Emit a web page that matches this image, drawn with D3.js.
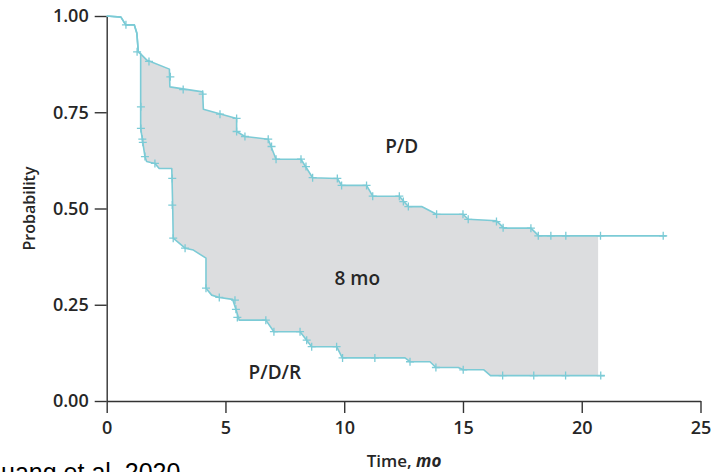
<!DOCTYPE html>
<html>
<head>
<meta charset="utf-8">
<script src="https://cdn.jsdelivr.net/npm/d3@7"></script>
<style>
  html, body { margin: 0; padding: 0; background: #fff; }
  svg text { font-family: "Open Sans", "Noto Sans", sans-serif; fill: #262626; }
</style>
</head>
<body>
<div id="chart"></div>
<script>
// ── DATA ──────────────────────────────────────────────────────
// P/D curve (upper) : vertices of the step line
const pdTime = [0, 0.6, 0.8, 1.16, 1.27, 1.33, 1.47, 1.68, 2.64, 2.66, 4.04, 4.07, 5.47, 5.47, 5.82, 6.80, 7.13, 8.18, 8.67, 9.71, 9.89, 10.94, 11.2, 12.32, 12.70, 13.26, 13.89, 15.0, 15.22, 16.41, 16.73, 17.86, 18.19, 23.57];
const pdProb = [1.0, 0.997, 0.977, 0.977, 0.955, 0.907, 0.899, 0.886, 0.862, 0.816, 0.803, 0.758, 0.734, 0.700, 0.687, 0.680, 0.628, 0.628, 0.580, 0.578, 0.560, 0.560, 0.532, 0.532, 0.505, 0.505, 0.485, 0.485, 0.472, 0.468, 0.449, 0.449, 0.429, 0.429];

// P/D censor marks
const pdCensorTime = [0.81, 1.28, 1.78, 2.68, 3.22, 4.04, 4.77, 5.47, 5.47, 5.82, 6.80, 6.94, 7.13, 8.18, 8.39, 8.67, 9.71, 9.89, 10.94, 11.2, 12.32, 12.49, 12.70, 13.89, 15.0, 15.22, 16.41, 16.69, 17.86, 18.17, 18.70, 19.33, 20.79, 23.43];
const pdCensorProb = [0.977, 0.907, 0.882, 0.842, 0.809, 0.797, 0.745, 0.734, 0.700, 0.687, 0.680, 0.661, 0.628, 0.628, 0.609, 0.580, 0.578, 0.560, 0.560, 0.532, 0.532, 0.518, 0.505, 0.485, 0.485, 0.472, 0.466, 0.450, 0.449, 0.429, 0.429, 0.429, 0.429, 0.429];

// P/D/R curve (lower)
const pdrTime = [0, 0.6, 0.8, 1.16, 1.27, 1.33, 1.43, 1.43, 1.50, 1.61, 1.68, 2.03, 2.21, 2.74, 2.78, 2.80, 3.30, 3.65, 4.18, 4.18, 4.42, 4.74, 5.30, 5.44, 5.58, 6.70, 7.04, 8.14, 8.63, 9.68, 9.92, 12.56, 12.77, 13.61, 13.86, 14.80, 15.01, 15.88, 16.16, 20.97];
const pdrProb = [1.0, 0.997, 0.977, 0.977, 0.955, 0.907, 0.902, 0.708, 0.680, 0.635, 0.622, 0.617, 0.604, 0.604, 0.500, 0.423, 0.397, 0.392, 0.371, 0.293, 0.275, 0.269, 0.264, 0.238, 0.210, 0.210, 0.180, 0.180, 0.141, 0.141, 0.112, 0.112, 0.102, 0.102, 0.087, 0.087, 0.081, 0.081, 0.066, 0.066];

// P/D/R censor marks
const pdrCensorTime = [1.44, 1.44, 1.50, 1.52, 1.61, 2.03, 2.76, 2.76, 2.80, 3.30, 4.18, 4.74, 5.40, 5.44, 5.50, 6.70, 7.04, 8.14, 8.42, 8.63, 9.68, 9.93, 11.29, 12.77, 13.86, 15.01, 16.67, 17.98, 19.32, 20.80];
const pdrCensorProb = [0.764, 0.708, 0.680, 0.672, 0.635, 0.617, 0.578, 0.509, 0.423, 0.397, 0.293, 0.269, 0.262, 0.238, 0.217, 0.210, 0.180, 0.180, 0.158, 0.141, 0.141, 0.112, 0.112, 0.102, 0.087, 0.081, 0.066, 0.066, 0.066, 0.066];

// shaded band between the two curves
const shadeStart = 1.43;
const shadeEnd = 20.69;

const xTicks = [0, 5, 10, 15, 20, 25];
const yTicks = [0, 0.25, 0.5, 0.75, 1];

// ── LAYOUT ────────────────────────────────────────────────────
const width = 718;
const height = 472;
const lineColor = "#7ccbd6";
const axisColor = "#333333";

const xScale = d3.scaleLinear().domain([0, 25]).range([106.7, 700.5]);
const yScale = d3.scaleLinear().domain([0, 1]).range([401, 16]);

const svg = d3.select("#chart")
  .append("svg")
    .attr("width", width)
    .attr("height", height);

const toPoints = (ts, ps) => ts.map((t, i) => ({ t, p: ps[i] }));

// linear value of a polyline at time t
const valueAt = (pts, t) => {
  for (let i = 1; i < pts.length; i++) {
    if (pts[i].t >= t) {
      const a = pts[i - 1], b = pts[i];
      if (b.t === a.t) return a.p;
      return a.p + (b.p - a.p) * (t - a.t) / (b.t - a.t);
    }
  }
  return pts[pts.length - 1].p;
};

const pdPts = toPoints(pdTime, pdProb);
const pdrPts = toPoints(pdrTime, pdrProb);

// ── SHADED AREA ───────────────────────────────────────────────
const upper = [{ t: shadeStart, p: valueAt(pdPts, shadeStart) }]
  .concat(pdPts.filter(d => d.t > shadeStart && d.t < shadeEnd))
  .concat([{ t: shadeEnd, p: valueAt(pdPts, shadeEnd) }]);
const lower = [{ t: shadeStart, p: 0.708 }]
  .concat(pdrPts.filter(d => d.t > shadeStart && d.t < shadeEnd))
  .concat([{ t: shadeEnd, p: valueAt(pdrPts, shadeEnd) }]);
const band = upper.concat(lower.slice().reverse());

const line = d3.line().x(d => xScale(d.t)).y(d => yScale(d.p));

svg.append("path")
  .attr("d", line(band) + "Z")
  .attr("fill", "#dcdddf")
  .attr("stroke", "none");

// ── AXES ──────────────────────────────────────────────────────
const yAxis = d3.axisLeft(yScale)
  .tickValues(yTicks)
  .tickFormat(d3.format(".2f"))
  .tickSize(12)
  .tickSizeOuter(0)
  .tickPadding(6);

const xAxis = d3.axisBottom(xScale)
  .tickValues(xTicks)
  .tickSize(12)
  .tickSizeOuter(0)
  .tickPadding(8);

const gy = svg.append("g")
  .attr("transform", `translate(${xScale(0)},0)`)
  .call(yAxis);

const gx = svg.append("g")
  .attr("transform", `translate(0,${yScale(0)})`)
  .call(xAxis);

[gx, gy].forEach(g => {
  g.select(".domain").attr("stroke", axisColor).attr("stroke-width", 1.4);
  g.selectAll(".tick line").attr("stroke", axisColor).attr("stroke-width", 1.4);
  g.selectAll(".tick text")
    .attr("fill", "#262626")
    .style("font-family", "'Open Sans', sans-serif")
    .style("font-size", "18px")
    .style("font-weight", "600");
});

// ── CURVES ────────────────────────────────────────────────────
[pdrPts, pdPts].forEach(pts => {
  svg.append("path")
    .attr("d", line(pts))
    .attr("fill", "none")
    .attr("stroke", lineColor)
    .attr("stroke-width", 1.6)
    .attr("stroke-linejoin", "round");
});

// censor marks (+)
const censors = toPoints(pdCensorTime, pdCensorProb).concat(toPoints(pdrCensorTime, pdrCensorProb));
const cs = 4;
svg.append("g")
  .selectAll("path")
  .data(censors)
  .join("path")
    .attr("d", d => {
      const cx = xScale(d.t), cy = yScale(d.p);
      return `M${cx - cs},${cy}H${cx + cs}M${cx},${cy - cs}V${cy + cs}`;
    })
    .attr("stroke", lineColor)
    .attr("stroke-width", 1.3)
    .attr("fill", "none");

// ── LABELS ────────────────────────────────────────────────────
const label = (t, p, txt) => svg.append("text")
  .attr("x", xScale(t))
  .attr("y", yScale(p))
  .attr("text-anchor", "middle")
  .style("font-size", "19px")
  .style("font-weight", "600")
  .text(txt);

label(12.42, 0.644, "P/D");
label(10.55, 0.301, "8 mo");
label(7.08, 0.057, "P/D/R");

// axis titles
svg.append("text")
  .attr("transform", `translate(35, ${yScale(0.5)}) rotate(-90)`)
  .attr("text-anchor", "middle")
  .style("font-size", "16px")
  .style("font-weight", "600")
  .text("Probability");

const xTitle = svg.append("text")
  .attr("x", 404)
  .attr("y", 467)
  .attr("text-anchor", "middle")
  .style("font-size", "17px")
  .style("font-weight", "600");
xTitle.append("tspan").text("Time, ");
xTitle.append("tspan").style("font-style", "italic").style("font-weight", "700").text("mo");

// source note, cut at the left and bottom edges as in the original
svg.append("text")
  .attr("x", -17)
  .attr("y", 481)
  .style("font-family", "'Liberation Sans', Arial, sans-serif")
  .style("font-size", "25px")
  .style("fill", "#000")
  .text("Huang et al. 2020");
</script>
</body>
</html>
